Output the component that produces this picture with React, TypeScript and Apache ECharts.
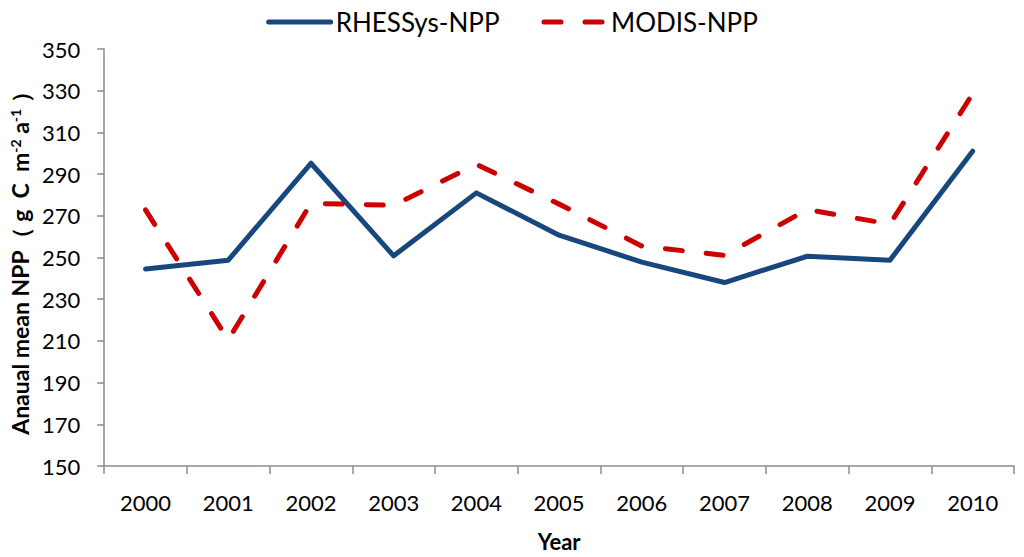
import React, { useEffect, useRef } from "react";
import * as echarts from "echarts";

const years = ["2000", "2001", "2002", "2003", "2004", "2005", "2006", "2007", "2008", "2009", "2010"];
const rhessys = [244.5, 248.7, 295.2, 250.8, 281, 260.7, 247.8, 238, 250.6, 248.7, 301];
const modis = [272.8, 210.5, 276, 275, 294.7, 275.6, 255.5, 251, 273, 266, 328.5];

const FONT = "Lato, 'Open Sans', sans-serif";

export default function App() {
  const ref = useRef<HTMLDivElement>(null);
  useEffect(() => {
    if (!ref.current) return;
    const chart = echarts.init(ref.current, undefined, { renderer: "svg" });
    chart.setOption({
      animation: false,
      backgroundColor: "#ffffff",
      textStyle: { fontFamily: FONT, color: "#000" },
      legend: {
        top: 4,
        left: "center",
        itemWidth: 62,
        itemHeight: 14,
        itemGap: 42,
        itemStyle: { opacity: 0 },
        lineStyle: { width: 5, cap: "round" },
        textStyle: { fontSize: 26, color: "#000", fontFamily: FONT },
        data: ["RHESSys-NPP", "MODIS-NPP"],
      },
      grid: { left: 98, right: 10, top: 49, bottom: 89, containLabel: false },
      xAxis: {
        type: "category",
        data: years,
        boundaryGap: true,
        name: "Year",
        nameLocation: "middle",
        nameGap: 64,
        nameTextStyle: { fontSize: 22, fontWeight: "bold", color: "#000", fontFamily: FONT },
        axisLine: { show: true, lineStyle: { color: "#8c8c8c", width: 1.5 } },
        axisTick: { show: true, alignWithLabel: false, length: 8, lineStyle: { color: "#8c8c8c", width: 1.5 } },
        axisLabel: { fontSize: 22, color: "#000", margin: 25, fontFamily: FONT },
        splitLine: { show: false },
      },
      yAxis: {
        type: "value",
        min: 150,
        max: 350,
        interval: 20,
        name: "Anaual mean NPP（ g  C  m{s|-2} a{s|-1} ）",
        nameLocation: "middle",
        nameGap: 71,
        nameTextStyle: {
          fontSize: 23,
          fontWeight: "bold",
          color: "#000",
          fontFamily: FONT,
          rich: {
            s: { fontSize: 14, fontWeight: "bold", color: "#000", fontFamily: FONT, verticalAlign: "top", padding: [0, 0, 9, 0] },
          },
        },
        axisLine: { show: true, lineStyle: { color: "#8c8c8c", width: 1.5 } },
        axisTick: { show: true, length: 7, lineStyle: { color: "#8c8c8c", width: 1.5 } },
        axisLabel: { fontSize: 22, color: "#000", margin: 24, fontFamily: FONT },
        splitLine: { show: false },
      },
      series: [
        {
          name: "RHESSys-NPP",
          type: "line",
          data: rhessys,
          symbol: "none",
          color: "#17477c",
          lineStyle: { color: "#17477c", width: 5, cap: "round", join: "round" },
        },
        {
          name: "MODIS-NPP",
          type: "line",
          data: modis,
          symbol: "none",
          color: "#cc0000",
          lineStyle: { color: "#cc0000", width: 5, type: [17, 24], cap: "round", join: "round" },
        },
      ],
    });
    return () => chart.dispose();
  }, []);
  return (
    <div
      ref={ref}
      style={{ position: "fixed", left: 0, top: 0, width: 1024, height: 557, background: "#fff" }}
    />
  );
}
